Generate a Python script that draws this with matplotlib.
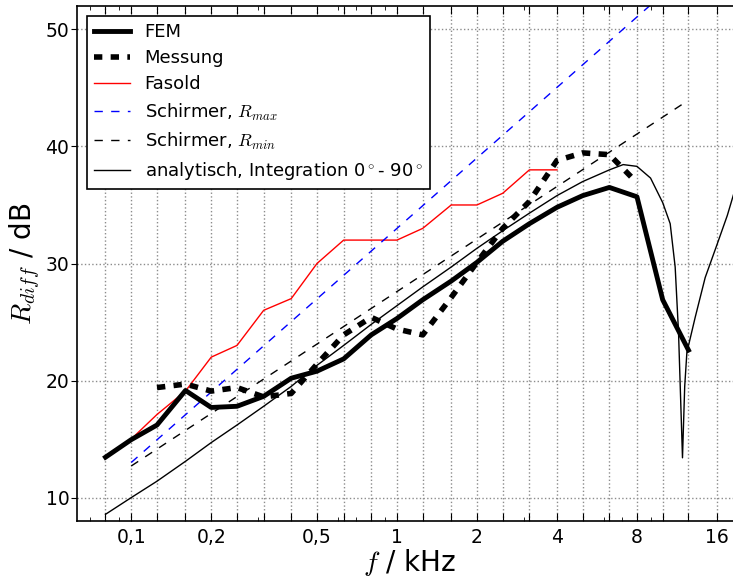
import numpy as np
import matplotlib
matplotlib.use('Agg')
from matplotlib import pyplot as plt
from matplotlib.ticker import FixedLocator, FixedFormatter, LogLocator, NullFormatter

# Terzmittenfrequenzen in kHz
F_TERZ = [0.08, 0.1, 0.125, 0.16, 0.2, 0.25, 0.315, 0.4, 0.5, 0.63, 0.8, 1.0,
          1.25, 1.6, 2.0, 2.5, 3.15, 4.0, 5.0, 6.3, 8.0, 10.0, 12.5, 16.0]
# beschriftete Ticks
F_LABELED = [0.1, 0.2, 0.5, 1.0, 2.0, 4.0, 8.0, 16.0]
F_LABELS = ['0,1', '0,2', '0,5', '1', '2', '4', '8', '16']

# FEM (0,08 - 12,5 kHz)
fem_f = F_TERZ[:23]
fem_r = [13.45, 14.95, 16.2, 19.15, 17.7, 17.8, 18.65, 20.2, 20.8, 21.85, 23.9,
         25.3, 26.9, 28.5, 30.1, 31.9, 33.4, 34.8, 35.8, 36.5, 35.7, 26.9, 22.6]

# Messung (0,125 - 8 kHz)
mess_f = F_TERZ[2:21]
mess_r = [19.4, 19.7, 19.1, 19.4, 18.6, 18.9, 21.4, 23.9, 25.4, 24.4, 23.9,
          27.1, 30.1, 33.0, 35.3, 38.8, 39.45, 39.3, 36.9]

# Fasold (0,1 - 4 kHz)
fas_f = F_TERZ[1:18]
fas_r = [15.0, 17.1, 19.1, 22.0, 23.0, 26.0, 27.0, 30.0, 32.0, 32.0, 32.0,
         33.0, 35.0, 35.0, 36.0, 38.0, 38.0]

# Schirmer
rmax_f = [0.1, 10.0]
rmax_r = [13.0, 53.0]
rmin_f = [0.1, 12.5]
rmin_r = [12.7, 43.95]

# analytisch, Integration 0 - 90 Grad
ana_f = [0.08, 0.1, 0.125, 0.16, 0.2, 0.25, 0.315, 0.4, 0.5, 0.63, 0.8, 1.0,
         1.25, 1.6, 2.0, 2.5, 3.15, 4.0, 5.0, 6.3, 7.1, 8.0, 9.0, 10.0, 10.67,
         11.14, 11.47, 11.87, 12.1, 12.33, 13.25, 14.45, 16.0, 17.5, 18.7, 20.0]
ana_r = [8.57, 10.0, 11.4, 13.1, 14.7, 16.2, 17.8, 19.5, 21.3, 23.0, 24.8, 26.4,
         28.0, 29.7, 31.3, 32.8, 34.3, 35.8, 37.0, 38.0, 38.45, 38.3, 37.3, 35.2,
         33.4, 29.7, 24.1, 13.4, 19.5, 22.4, 25.4, 28.8, 31.6, 34.1, 36.3, 38.2]


def config_plt():
    plt.rcParams['mathtext.fontset'] = 'cm'
    plt.rcParams['lines.scale_dashes'] = False
    fig = plt.figure(figsize=(7.33, 5.78), dpi=100)
    ax = fig.add_axes([77 / 733, 57 / 578, 665.7 / 733, 515 / 578])
    return fig, ax


def main():
    fig, ax = config_plt()
    dash = (0, (6, 6))
    ax.plot(fem_f, fem_r, color='black', lw=3.5, label='FEM', zorder=5)
    ax.plot(mess_f, mess_r, color='black', lw=4, linestyle=dash,
            label='Messung', zorder=5)
    ax.plot(fas_f, fas_r, color='red', lw=1.0, label='Fasold')
    ax.plot(rmax_f, rmax_r, color='blue', lw=1.0, linestyle=dash,
            label=r'Schirmer, $R_{max}$')
    ax.plot(rmin_f, rmin_r, color='black', lw=1.0, linestyle=dash,
            label=r'Schirmer, $R_{min}$')
    ax.plot(ana_f, ana_r, color='black', lw=1.0,
            label=r'analytisch, Integration 0$^\circ$- 90$^\circ$')

    ax.set_xscale('log')
    ax.set_xlim(0.0625, 20)
    ax.set_ylim(8, 52)

    labels = [F_LABELS[F_LABELED.index(f)] if f in F_LABELED else '' for f in F_TERZ]
    ax.xaxis.set_major_locator(FixedLocator(F_TERZ))
    ax.xaxis.set_major_formatter(FixedFormatter(labels))
    ax.xaxis.set_minor_locator(LogLocator(base=10, subs=np.arange(2, 10)))
    ax.xaxis.set_minor_formatter(NullFormatter())
    ax.set_yticks([10, 20, 30, 40, 50])

    ax.tick_params(axis='x', which='both', direction='in', top=True, bottom=True,
                   labelsize=13.5, pad=5)
    ax.tick_params(axis='x', which='major', length=6)
    ax.tick_params(axis='x', which='minor', length=3)
    ax.tick_params(axis='y', direction='out', length=4, pad=1.5,
                   labelsize=13.5, right=False)
    for s in ax.spines.values():
        s.set_linewidth(1.2)

    ax.grid(True, which='major', color='0.55', linestyle=':', linewidth=1.0)
    ax.set_axisbelow(True)

    ax.set_xlabel(r'$f$ / kHz', fontsize=20, labelpad=0)
    ax.set_ylabel(r'$R_{diff}$ / dB', fontsize=20, labelpad=2)

    leg = ax.legend(loc='upper left', fontsize=13, fancybox=False, framealpha=1,
                    edgecolor='black', handlelength=2.0, labelspacing=0.45,
                    borderaxespad=0.55)
    leg.get_frame().set_linewidth(1.2)

    fig.savefig('out.png', dpi=100)


if __name__ == '__main__':
    main()
